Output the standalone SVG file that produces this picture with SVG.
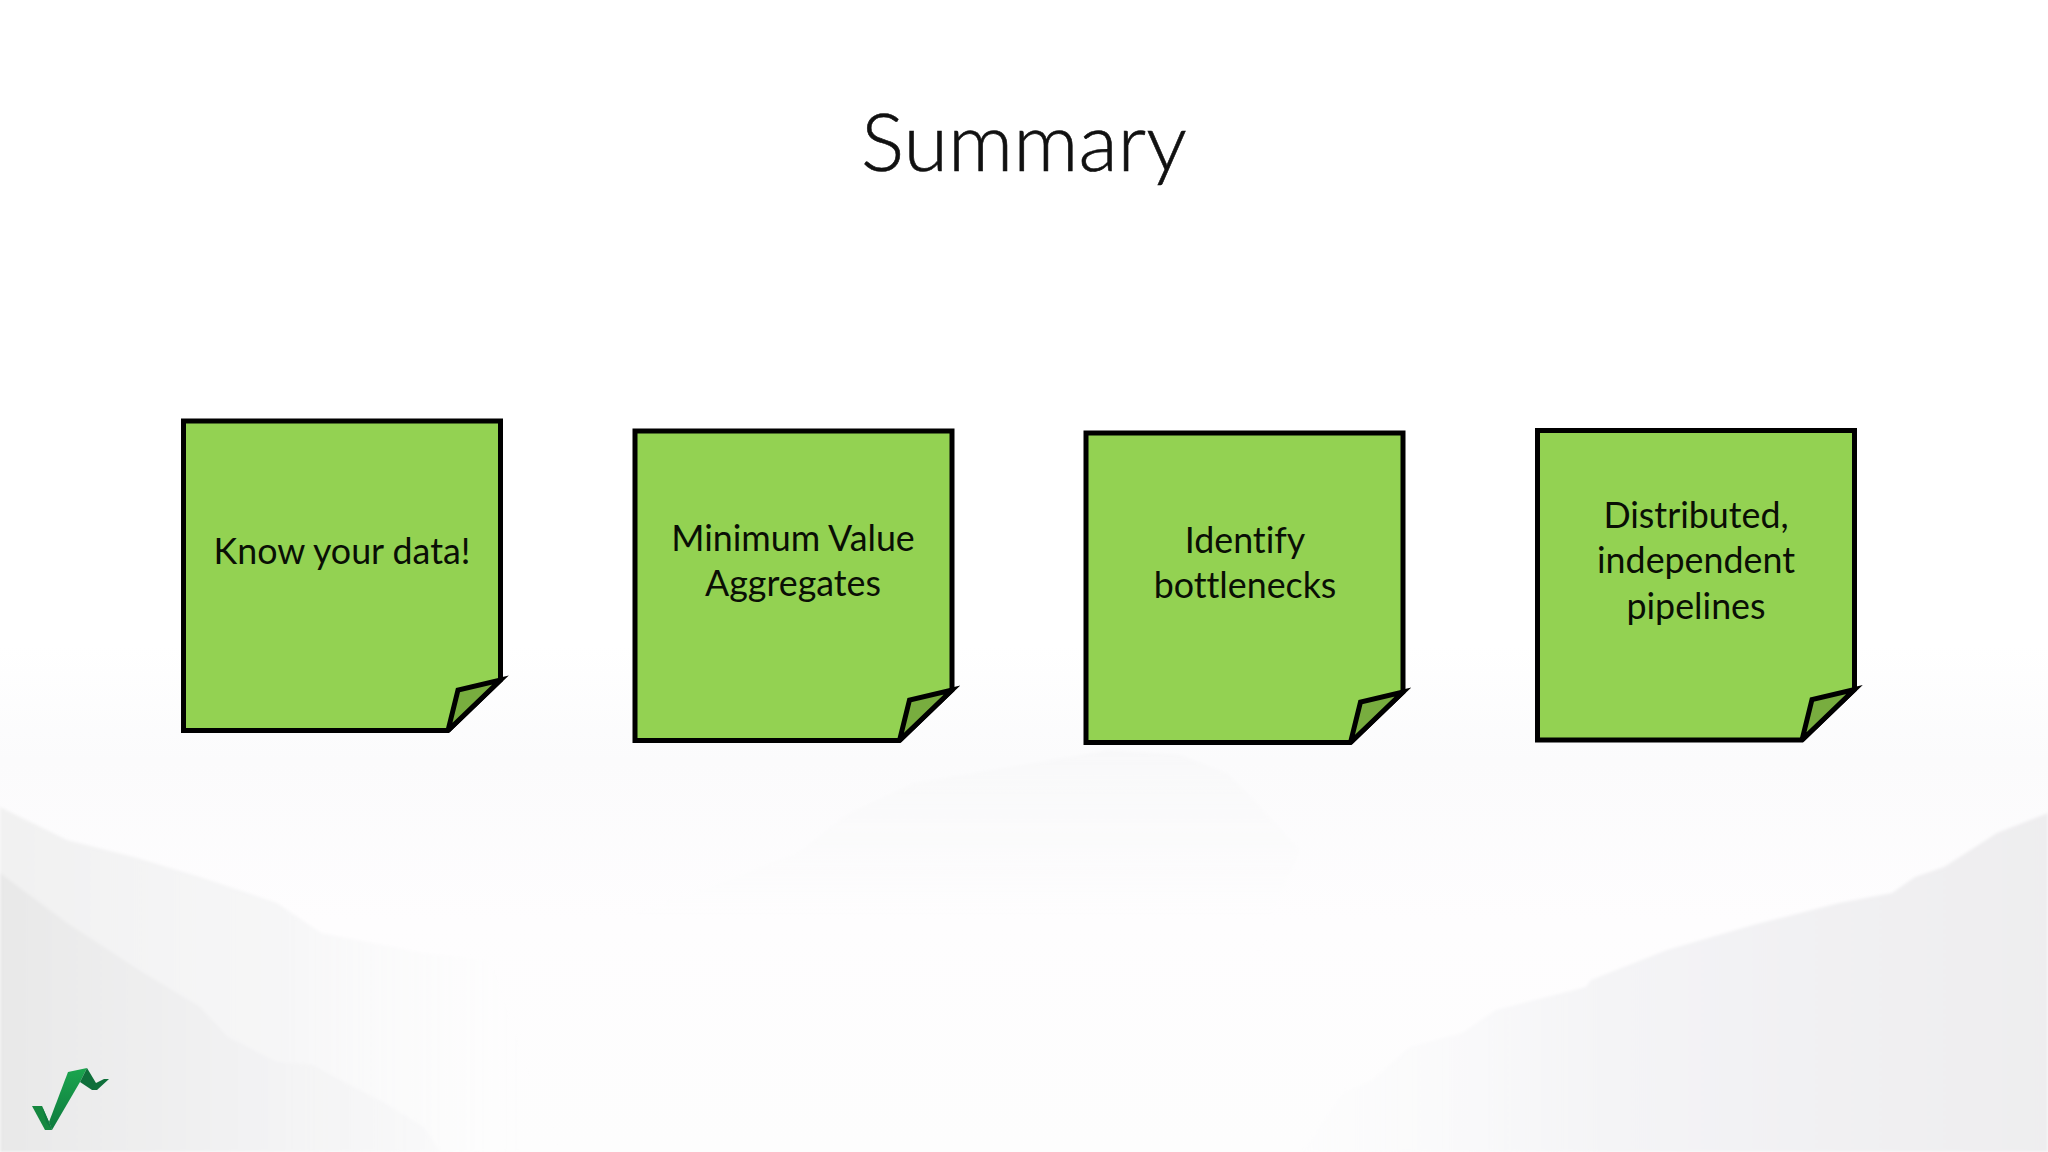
<svg xmlns="http://www.w3.org/2000/svg" width="2048" height="1152" viewBox="0 0 2048 1152">
<style>
.t{font-family:"Lato","Carlito","Open Sans",sans-serif;font-size:35.8px;fill:#0a0f05;text-anchor:middle;font-variant-ligatures:none}
.title{font-family:"Lato","Open Sans",sans-serif;font-weight:300;font-size:81px;fill:#111;stroke:#111;stroke-width:.6;text-anchor:middle}
.note{fill:#93d252;stroke:#000;stroke-width:5;stroke-linejoin:miter;stroke-miterlimit:2}
.fold{fill:#78ad3f;stroke:#000;stroke-width:5;stroke-linejoin:miter;stroke-miterlimit:6}
</style>
<defs>
<linearGradient id="bg" x1="0" y1="0" x2="0" y2="1"><stop offset="0.56" stop-color="#fff"/><stop offset="0.66" stop-color="#fbfbfc"/><stop offset="0.8" stop-color="#fefdfe"/><stop offset="1" stop-color="#fdfdfd"/></linearGradient>
<linearGradient id="fadeA" x1="0" y1="0" x2="1" y2="0"><stop offset="0" stop-color="#f1f1f1"/><stop offset="0.5" stop-color="#f6f6f7"/><stop offset="1" stop-color="#fdfdfd" stop-opacity="0"/></linearGradient>
<linearGradient id="fadeB" x1="0" y1="0" x2="1" y2="0"><stop offset="0" stop-color="#e8e8e8"/><stop offset="0.5" stop-color="#f1f1f2"/><stop offset="1" stop-color="#f7f7f8" stop-opacity=".6"/></linearGradient>
<linearGradient id="fadeR" x1="1" y1="0" x2="0" y2="0"><stop offset="0" stop-color="#eeedef"/><stop offset="0.6" stop-color="#f4f4f6"/><stop offset="1" stop-color="#fbfbfc" stop-opacity=".3"/></linearGradient>
<linearGradient id="fadeC" x1="0" y1="0" x2="0" y2="1"><stop offset="0" stop-color="#f8f8f9"/><stop offset="1" stop-color="#fdfdfd" stop-opacity="0"/></linearGradient>
<linearGradient id="logoG" x1="0" y1="0" x2="0" y2="1"><stop offset="0" stop-color="#1ba54e"/><stop offset="1" stop-color="#0e7a3e"/></linearGradient>
<filter id="blur" x="-10%" y="-10%" width="120%" height="120%"><feGaussianBlur stdDeviation="1.500"/></filter>
<g id="sticky">
<path class="note" d="M0 0H317V259L264.500 309.500H0Z"/>
<path class="fold" d="M264.500 309.500L274.500 269L317 259L264.500 309.500"/>
</g>
</defs>
<rect width="2048" height="1152" fill="url(#bg)"/>
<g filter="url(#blur)">
<path d="M1110 750L1180 755L1227 773L1254 800L1300 850L1260 950H627V913L679 897L797 853L849 813L914 783Z" fill="url(#fadeC)"/>
<path d="M0 807L67 840L134 857L200 877L277 903L321 933L424 953L491 960L560 1152H0Z" fill="url(#fadeA)"/>
<path d="M0 873L67 923L134 967L200 1007L228 1037L277 1062L312 1065L379 1100L424 1127L440 1152H0Z" fill="url(#fadeB)"/>
<path d="M2048 813L1997 833L1944 867L1915 877L1892 893L1839 903L1753 925L1667 950L1591 980L1586 987L1496 1010L1462 1033L1410 1047L1372 1080L1343 1093L1300 1152H2048Z" fill="url(#fadeR)"/>
</g>
<text class="title" x="1024" y="171">Summary</text>
<g id="note-1"><use href="#sticky" transform="translate(183.500 421)"/><text class="t" x="342" y="563.500">Know your data!</text></g>
<g id="note-2"><use href="#sticky" transform="translate(635 431)"/><text class="t" x="793" y="551">Minimum Value</text><text class="t" x="793" y="595.500">Aggregates</text></g>
<g id="note-3"><use href="#sticky" transform="translate(1086 433)"/><text class="t" x="1245" y="552.500">Identify</text><text class="t" x="1245" y="597.500">bottlenecks</text></g>
<g id="note-4"><use href="#sticky" transform="translate(1537.500 430.500)"/><text class="t" x="1696" y="527.500">Distributed,</text><text class="t" x="1696" y="572.500">independent</text><text class="t" x="1696" y="618.500">pipelines</text></g>
<g id="logo">
<path d="M32 1106H42L49 1122L52 1130H45Z" fill="#15873f"/>
<path d="M42 1106L49 1122L52 1130L46 1122Z" fill="#0f7a3f"/>
<path d="M49 1122L68 1072L87 1068L80 1082L52 1130Z" fill="url(#logoG)"/>
<path d="M87 1068L96 1083L104 1079H109L97 1090H92L80 1082Z" fill="#0f6f3a"/>
</g>
</svg>
